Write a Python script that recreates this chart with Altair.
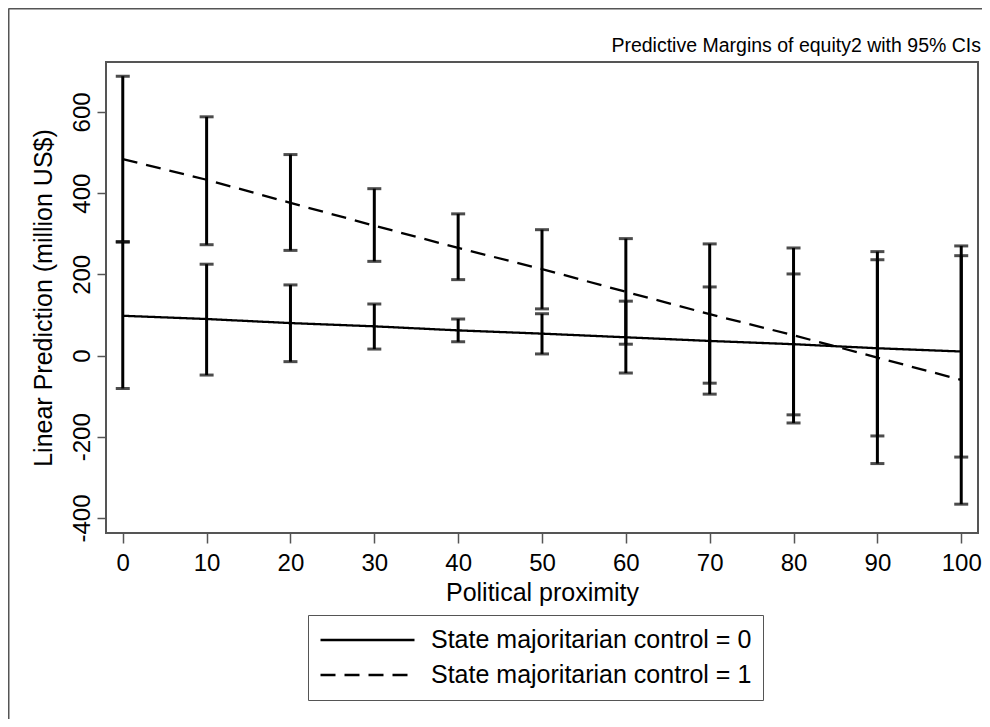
import altair as alt
import pandas as pd

FONT = "Liberation Sans"

# ---- data ----
x_vals = [0, 10, 20, 30, 40, 50, 60, 70, 80, 90, 100]
series_names = ["State majoritarian control = 0", "State majoritarian control = 1"]

s0_center = [98, 90, 80, 72, 62, 54, 45, 36, 28, 18, 10]
s0_lower = [-81, -48, -15, 16, 34, 4, -43, -95, -146, -198, -250]
s0_upper = [279, 225, 174, 127, 90, 103, 134, 169, 201, 236, 270]

s1_center = [484, 433, 376, 320, 265, 213, 157, 102, 50, -5, -60]
s1_lower = [281, 273, 259, 232, 187, 115, 28, -68, -166, -266, -366]
s1_upper = [688, 588, 495, 411, 349, 310, 288, 275, 265, 256, 246]

x_ticks = [0, 10, 20, 30, 40, 50, 60, 70, 80, 90, 100]
y_ticks = [-400, -200, 0, 200, 400, 600]
title_text = "Predictive Margins of equity2 with 95% CIs"

rows = []
for name, c, lo, up in [
    (series_names[0], s0_center, s0_lower, s0_upper),
    (series_names[1], s1_center, s1_lower, s1_upper),
]:
    for xv, cv, lv, uv in zip(x_vals, c, lo, up):
        rows.append({"x": xv, "series": name, "center": cv, "lower": lv, "upper": uv})
df = pd.DataFrame(rows)
caps = df.melt(id_vars=["x", "series"], value_vars=["lower", "upper"], value_name="val")

GRAY = "#555555"

x_axis = alt.Axis(
    values=x_ticks, title="Political proximity", grid=False, domain=False,
    labelAngle=0, labelFlush=False, labelOverlap=False,
    tickSize=10, tickColor=GRAY, tickWidth=1.5, labelPadding=8,
    labelFont=FONT, labelFontSize=24, labelColor="black",
    titleFont=FONT, titleFontSize=25, titleFontWeight="normal", titleColor="black",
    titlePadding=5,
)
y_axis = alt.Axis(
    values=y_ticks, title="Linear Prediction (million US$)", grid=False, domain=False,
    labelAngle=270, labelAlign="center", labelBaseline="alphabetic", labelOverlap=False,
    labelExpr="'' + datum.value",
    tickSize=9, tickColor=GRAY, tickWidth=1.5, labelPadding=8,
    labelFont=FONT, labelFontSize=24, labelColor="black",
    titleFont=FONT, titleFontSize=25, titleFontWeight="normal", titleColor="black",
    titlePadding=14,
)

xs = alt.Scale(domain=[-2, 102], nice=False, zero=False)
ys = alt.Scale(domain=[-437, 723], nice=False, zero=False)

X = alt.X("x:Q", scale=xs, axis=x_axis)

lines = alt.Chart(df).mark_line(color="black", strokeWidth=2.3).encode(
    x=X,
    y=alt.Y("center:Q", scale=ys, axis=y_axis),
    strokeDash=alt.StrokeDash(
        "series:N",
        scale=alt.Scale(domain=series_names, range=[[1, 0], [15, 9]]),
        legend=alt.Legend(
            title=None, orient="none", legendX=202, legendY=553, direction="vertical",
            symbolType="stroke", symbolSize=8836, symbolStrokeWidth=2.4,
            symbolStrokeColor="black", clipHeight=28, rowPadding=7,
            labelFont=FONT, labelFontSize=25, labelColor="black", labelOffset=15,
            labelLimit=600, padding=11, strokeColor=GRAY, fillColor="white",
        ),
    ),
)

rules = alt.Chart(df).mark_rule(color="black", strokeWidth=3).encode(
    x=X,
    y=alt.Y("lower:Q", scale=ys, axis=y_axis),
    y2="upper:Q",
)

cap_marks = alt.Chart(caps).mark_tick(
    color="black", orient="horizontal", size=14, thickness=3
).encode(
    x=X,
    y=alt.Y("val:Q", scale=ys, axis=y_axis),
)

frame_df = pd.DataFrame({"k": [0], "title": [title_text]})
outer_left = alt.Chart(frame_df).mark_rule(color=GRAY, strokeWidth=2).encode(
    x=alt.value(-97.5), y=alt.value(-53.5), y2=alt.value(720)
)
outer_top = alt.Chart(frame_df).mark_rule(color=GRAY, strokeWidth=2).encode(
    x=alt.value(-97.5), x2=alt.value(1000), y=alt.value(-53.5)
)
title_mark = alt.Chart(frame_df).mark_text(
    font=FONT, fontSize=19.5, color="black", align="right", baseline="alphabetic"
).encode(
    x=alt.value(875), y=alt.value(-10.5), text="title:N"
)

chart = alt.layer(outer_left, outer_top, title_mark, lines, rules, cap_marks).properties(
    width=872,
    height=471,
    autosize=alt.AutoSizeParams(type="none"),
    padding={"left": 98, "top": 54, "right": 4, "bottom": 186},
    background="white",
).configure_view(stroke=GRAY, strokeWidth=2)

chart.save("out.html", embed_options={"renderer": "svg", "actions": False})
